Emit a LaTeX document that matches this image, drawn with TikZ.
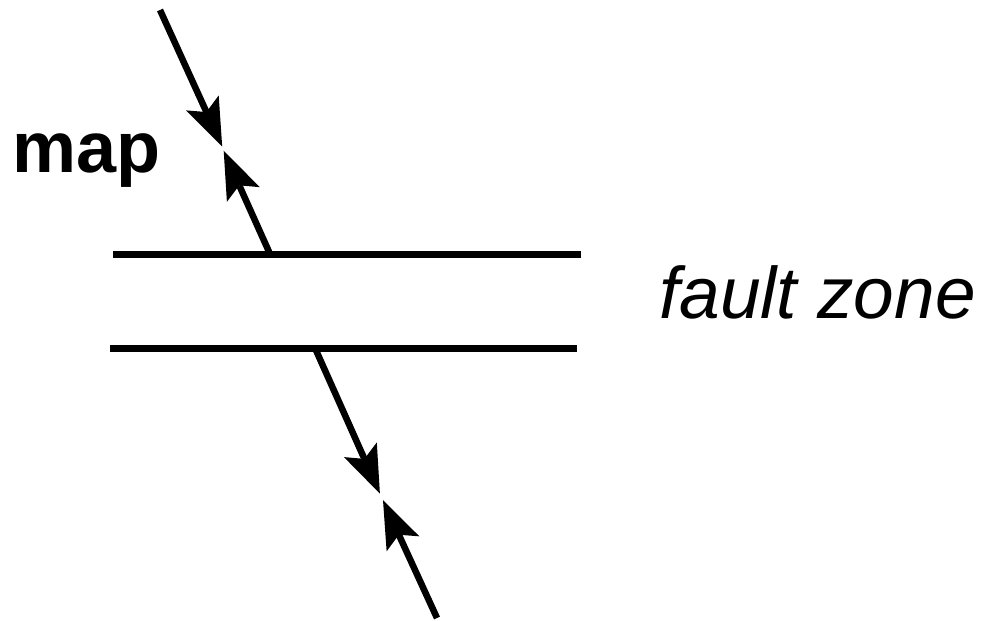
\documentclass[tikz,border=0pt]{standalone}
\usepackage{fontspec}
\setmainfont{Liberation Sans}
\usetikzlibrary{arrows.meta}
\begin{document}
\begin{tikzpicture}[x=1pt,y=-1pt,
  fault/.style={line width=7pt},
  slip/.style={line width=6.5pt,-{Stealth[length=48pt,width=36pt,inset=10pt,line width=0pt]}},
  lbl/.style={inner sep=0pt,font=\fontsize{72}{80}\selectfont}]
\useasboundingbox (0,0) rectangle (989,621);
% fault zone boundaries
\coordinate (tl) at (113,254);
\coordinate (tr) at (581,254);
\coordinate (bl) at (110,348);
\coordinate (br) at (577,348);
\draw[fault] (tl) -- (tr);
\draw[fault] (bl) -- (br);
% upper marker
\coordinate (u0) at (160,10);
\coordinate (u1) at (270,254);
\coordinate (ud) at (222.2,146.6);
\coordinate (uu) at (223.7,150.7);
\draw[slip] (u0) -- (ud);
\draw[slip] (u1) -- (uu);
% lower marker
\coordinate (l0) at (315,348);
\coordinate (l1) at (437,618);
\coordinate (ld) at (379.9,493.6);
\coordinate (lu) at (383.0,500.2);
\draw[slip] (l0) -- (ld);
\draw[slip] (l1) -- (lu);
% labels
\node[lbl,anchor=base west,font=\fontsize{72}{80}\selectfont\bfseries] (map) at (12,172) {map};
\node[lbl,anchor=base west,font=\fontsize{73}{80}\selectfont\itshape] (fz) at (659,318) {fault zone};
\end{tikzpicture}
\end{document}
